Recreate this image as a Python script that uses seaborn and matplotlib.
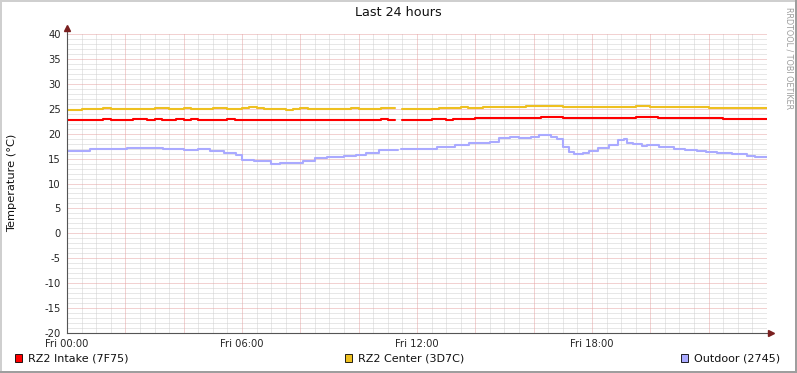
import numpy as np
import pandas as pd
import matplotlib
matplotlib.use("Agg")
import matplotlib.pyplot as plt
import seaborn as sns
from matplotlib.patches import Rectangle
from matplotlib.ticker import MultipleLocator

sns.set_style("white")
plt.rcParams['font.family'] = ['DejaVu Sans']

NAN = float('nan')

# ---------------- data ----------------
title = "Last 24 hours"
y_label = "Temperature (°C)"
x_tick_hours = [0, 6, 12, 18]
x_tick_labels = ["Fri 00:00", "Fri 06:00", "Fri 12:00", "Fri 18:00"]
y_ticks = [-20, -15, -10, -5, 0, 5, 10, 15, 20, 25, 30, 35, 40]
series_names = ["RZ2 Intake (7F75)", "RZ2 Center (3D7C)", "Outdoor (2745)"]
series_colors = ["#FF0000", "#EEC020", "#AAAAFF"]

# quarter-hour samples (value for each 15 min interval, 0h..24h)
step_hours = 0.25
intake = [
    22.68, 22.68, 22.81, 22.81, 22.81, 22.94, 22.81, 22.81,
    22.81, 22.94, 22.94, 22.81, 22.94, 22.81, 22.81, 22.94,
    22.81, 22.94, 22.81, 22.81, 22.81, 22.81, 22.94, 22.81,
    22.81, 22.81, 22.81, 22.81, 22.81, 22.68, 22.81, 22.68,
    22.81, 22.81, 22.68, 22.68, 22.81, 22.81, 22.81, 22.68,
    22.81, 22.81, 22.81, 22.94, 22.81, NAN, 22.81, 22.81,
    22.81, 22.81, 22.94, 22.94, 22.81, 22.94, 22.94, 23.00,
    23.08, 23.15, 23.20, 23.15, 23.20, 23.20, 23.20, 23.20,
    23.20, 23.34, 23.34, 23.34, 23.20, 23.08, 23.08, 23.08,
    23.08, 23.08, 23.08, 23.08, 23.08, 23.08, 23.34, 23.34,
    23.34, 23.20, 23.20, 23.20, 23.20, 23.20, 23.20, 23.20,
    23.20, 23.20, 22.94, 23.00, 22.94, 22.90, 22.94, 22.94,
]
center = [
    24.81, 24.81, 24.88, 24.95, 24.95, 25.08, 24.95, 24.95,
    24.95, 25.02, 24.95, 24.95, 25.08, 25.22, 24.95, 24.95,
    25.08, 24.95, 24.95, 24.95, 25.08, 25.08, 24.95, 24.95,
    25.08, 25.30, 25.08, 24.95, 24.95, 24.95, 24.81, 24.88,
    25.22, 24.95, 24.95, 24.95, 25.02, 24.95, 24.95, 25.08,
    24.95, 24.95, 25.02, 25.22, 25.08, NAN, 24.95, 24.95,
    25.02, 24.95, 24.95, 25.08, 25.08, 25.15, 25.30, 25.22,
    25.22, 25.30, 25.35, 25.42, 25.42, 25.35, 25.42, 25.55,
    25.62, 25.55, 25.62, 25.62, 25.42, 25.35, 25.35, 25.35,
    25.35, 25.42, 25.35, 25.35, 25.35, 25.42, 25.55, 25.55,
    25.42, 25.42, 25.35, 25.42, 25.35, 25.42, 25.35, 25.35,
    25.22, 25.22, 25.22, 25.08, 25.22, 25.22, 25.08, 25.22,
]

# outdoor: (start hour of level, level)
outdoor_hours = [
    0.0, 0.8, 2.06, 3.3, 4.0, 4.5, 4.9, 5.4, 5.8, 6.0, 6.4, 7.0, 7.3,
    8.1, 8.5, 8.9, 9.5, 9.9, 10.25, 10.7, 11.35, 11.45, 12.0, 12.7, 13.3,
    13.8, 14.5, 14.8, 15.2, 15.5, 15.9, 16.2, 16.6, 16.8, 17.0, 17.2,
    17.4, 17.7, 17.9, 18.2, 18.6, 18.9, 19.1, 19.2, 19.4, 19.7, 19.9,
    20.3, 20.8, 21.2, 21.6, 21.9, 22.3, 22.8, 23.3, 23.6,
]
outdoor_temps = [
    16.6, 16.9, 17.15, 16.9, 16.8, 16.85, 16.6, 16.1, 15.7, 14.7, 14.6, 14.0, 14.2,
    14.5, 15.15, 15.3, 15.6, 15.75, 16.1, 16.65, NAN, 16.9, 17.0, 17.4, 17.8,
    18.1, 18.3, 19.2, 19.4, 19.1, 19.3, 19.65, 19.4, 18.9, 17.4, 16.4,
    15.85, 16.2, 16.6, 17.2, 17.7, 18.7, 19.0, 18.2, 17.9, 17.6, 17.8,
    17.3, 16.9, 16.8, 16.5, 16.4, 16.1, 15.9, 15.6, 15.3,
]
end_hour = 24.0


def segments(starts, values, end):
    bounds = list(starts) + [end]
    segs, cx, cy = [], [], []
    for i, v in enumerate(values):
        if np.isnan(v):
            if cx:
                cx.append(bounds[i]); cy.append(cy[-1])
                segs.append((cx, cy)); cx, cy = [], []
            continue
        cx.append(bounds[i]); cy.append(v)
    if cx:
        cx.append(end); cy.append(cy[-1]); segs.append((cx, cy))
    return segs


W, H = 797, 373
fig = plt.figure(figsize=(W / 100, H / 100), dpi=100, facecolor="white")
L, R, T, B = 67, 767, 34, 333
ax = fig.add_axes([L / W, (H - B) / H, (R - L) / W, (B - T) / H])
ax.set_facecolor("white")

# grid
minor_c = "#D0D0D0"
major_c = "#E6A4A4"
dot = (0, (1, 1))
grid_kw = dict(lw=0.72, ls=dot)
for h in np.arange(0.5, 24, 0.5):
    if abs(h / 2 - round(h / 2)) > 1e-6:
        ax.axvline(h, color=minor_c, zorder=1, **grid_kw)
for v in range(-19, 41):
    if v % 5 != 0:
        ax.axhline(v, color=minor_c, zorder=1, **grid_kw)
for h in range(2, 25, 2):
    ax.axvline(h, color=major_c, zorder=1.5, **grid_kw)
for v in range(-15, 41, 5):
    ax.axhline(v, color=major_c, zorder=1.5, **grid_kw)

# series
quarter_starts = [i * step_hours for i in range(len(intake))]
all_series = [
    (quarter_starts, intake),
    (quarter_starts, center),
    (outdoor_hours, outdoor_temps),
]
for (starts, vals), color in zip(all_series, series_colors):
    for sx, sy in segments(starts, vals, end_hour):
        df = pd.DataFrame({"hour": sx, "temp": sy})
        sns.lineplot(data=df, x="hour", y="temp", ax=ax, color=color,
                     linewidth=1.5, drawstyle="steps-post", estimator=None,
                     sort=False, legend=False, zorder=3)

ax.set_xlim(0, 24)
ax.set_ylim(-20, 40)
ax.set_xlabel("")
ax.set_ylabel("")
for s in ["top", "right"]:
    ax.spines[s].set_visible(False)
for s in ["left", "bottom"]:
    ax.spines[s].set_color("#555555")
    ax.spines[s].set_linewidth(0.8)
    ax.spines[s].set_zorder(4)

ax.set_xticks(x_tick_hours)
ax.set_xticklabels(x_tick_labels, fontsize=7.2)
ax.set_yticks(y_ticks)
ax.set_yticklabels([str(v) for v in y_ticks], fontsize=7.2)
ax.xaxis.set_minor_locator(MultipleLocator(0.5))
ax.yaxis.set_minor_locator(MultipleLocator(1))
ax.tick_params(axis="both", which="major", length=3, width=0.6, color="#777777",
               pad=1.5, direction="out")
ax.tick_params(axis="both", which="minor", length=1.5, width=0.5, color="#999999",
               direction="out")

# axis arrows
arrow_c = "#7A1F1F"
ax.plot([0, 0], [1, 1 + 6 / 299], transform=ax.transAxes, color="#555555",
        lw=0.8, clip_on=False, zorder=4)
ax.plot([0], [1 + 6 / 299], transform=ax.transAxes, marker="^", ms=4,
        color=arrow_c, clip_on=False, zorder=5)
ax.plot([1, 1 + 4 / 700], [0, 0], transform=ax.transAxes, color="#555555",
        lw=0.8, clip_on=False, zorder=4)
ax.plot([1 + 4 / 700], [0], transform=ax.transAxes, marker=">", ms=4,
        color=arrow_c, clip_on=False, zorder=5)

# texts
fig.text(398 / W, 1 - 13 / H, title, ha="center", va="center", fontsize=9.2,
         color="#111111")
fig.text(12 / W, 1 - 183 / H, y_label, ha="center", va="center", fontsize=8.2,
         rotation=90, color="#111111")
fig.text(789 / W, 1 - 7 / H, "RRDTOOL / TOBI OETIKER", ha="center", va="top",
         fontsize=5.8, rotation=270, color="#9C9C9C")

# legend
legend_x = [15, 345, 681]
for name, color, lx in zip(series_names, series_colors, legend_x):
    fig.add_artist(Rectangle((lx / W, 1 - 362 / H), 7 / W, 8 / H,
                             transform=fig.transFigure, facecolor=color,
                             edgecolor="black", linewidth=0.6))
    fig.text((lx + 13) / W, 1 - 358.5 / H, name, ha="left", va="center",
             fontsize=8.0, color="#111111")

# frame
fig.add_artist(Rectangle((0, 0), 2 / W, 1, transform=fig.transFigure,
                         facecolor="#CFCFCF", edgecolor="none"))
fig.add_artist(Rectangle((0, 1 - 2 / H), 1, 2 / H, transform=fig.transFigure,
                         facecolor="#CFCFCF", edgecolor="none"))
fig.add_artist(Rectangle((1 - 2 / W, 0), 2 / W, 1, transform=fig.transFigure,
                         facecolor="#9E9E9E", edgecolor="none"))
fig.add_artist(Rectangle((0, 0), 1, 2 / H, transform=fig.transFigure,
                         facecolor="#9E9E9E", edgecolor="none"))

fig.savefig("out.png", dpi=100, facecolor="white")
